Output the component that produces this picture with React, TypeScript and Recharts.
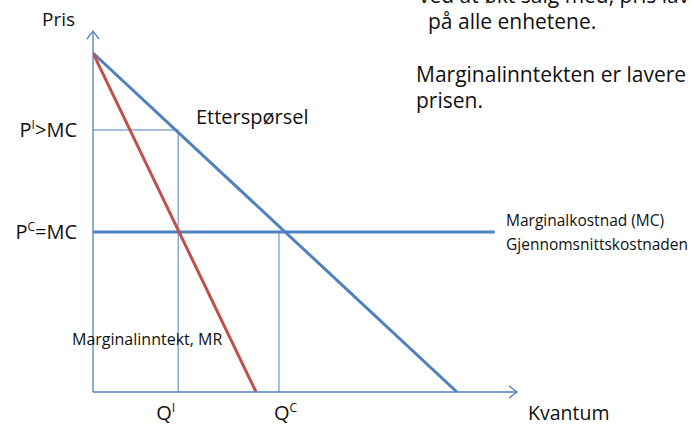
import { LineChart, Line, XAxis, YAxis, ReferenceLine, ReferenceDot } from "recharts";

// quantity / price in chart units
const demand = [
  { q: 0, p: 100 },
  { q: 100, p: 0 },
];
const marginalRevenue = [
  { q: 0, p: 100 },
  { q: 44.8, p: 0 },
];
const marginalCost = [
  { q: 0, p: 47.2 },
  { q: 110.4, p: 47.2 },
];
const qMonopoly = 23.4;
const pMonopoly = 77.3;
const qCompetition = 51.1;
const xMax = 116.5;
const yMax = 106.5;

const xTicks = [qMonopoly, qCompetition];
const xTickLabels = [
  { main: "Q", sup: "I", dx: -22 },
  { main: "Q", sup: "C", dx: -5 },
];
const yTicks = [pMonopoly, 47.2];
const yTickLabels = [
  { main: "P", sup: "I", rest: ">MC" },
  { main: "P", sup: "C", rest: "=MC" },
];

const BLUE = "#4F81BD";
const RED = "#C0504D";
const FONT = "'Open Sans', sans-serif";

const XTick = (props: any) => {
  const { x, index } = props;
  const l = xTickLabels[index];
  if (!l) return null;
  return (
    <text x={x + l.dx} y={420} fontSize={20} fill="#111" fontFamily={FONT}>
      {l.main}
      <tspan fontSize={12} dy={-8}>{l.sup}</tspan>
    </text>
  );
};

const YTick = (props: any) => {
  const { y, index } = props;
  const l = yTickLabels[index];
  if (!l) return null;
  return (
    <text x={77} y={y + 7} fontSize={20} fill="#111" fontFamily={FONT} textAnchor="end">
      {l.main}
      <tspan fontSize={12} dy={-8}>{l.sup}</tspan>
      <tspan dy={8}>{l.rest}</tspan>
    </text>
  );
};

const ArrowRight = (props: any) => (
  <path d={`M${props.cx - 8},${props.cy - 6} L${props.cx},${props.cy} L${props.cx - 8},${props.cy + 6}`} stroke={BLUE} strokeWidth={1.3} fill="none" />
);
const ArrowUp = (props: any) => (
  <path d={`M${props.cx - 6},${props.cy + 8} L${props.cx},${props.cy} L${props.cx + 6},${props.cy + 8}`} stroke={BLUE} strokeWidth={1.3} fill="none" />
);

export default function App() {
  return (
    <div style={{ position: "absolute", left: 0, top: 0, width: 691, height: 428, background: "#fff", overflow: "hidden" }}>
      <LineChart width={691} height={428} margin={{ top: 31, right: 174, bottom: 0, left: 0 }}>
        <XAxis
          type="number"
          dataKey="q"
          domain={[0, xMax]}
          ticks={xTicks}
          tick={<XTick />}
          tickLine={false}
          height={36}
          allowDataOverflow
          stroke={BLUE}
          strokeWidth={1.3}
        />
        <YAxis
          type="number"
          dataKey="p"
          domain={[0, yMax]}
          ticks={yTicks}
          tick={<YTick />}
          tickLine={false}
          width={93}
          allowDataOverflow
          stroke={BLUE}
          strokeWidth={1.3}
        />
        <ReferenceLine segment={[{ x: 0, y: pMonopoly }, { x: qMonopoly, y: pMonopoly }]} stroke={BLUE} strokeWidth={1} />
        <ReferenceLine segment={[{ x: qMonopoly, y: 0 }, { x: qMonopoly, y: pMonopoly }]} stroke={BLUE} strokeWidth={1} />
        <ReferenceLine segment={[{ x: qCompetition, y: 0 }, { x: qCompetition, y: 47.2 }]} stroke={BLUE} strokeWidth={1} />
        <Line data={marginalCost} dataKey="p" stroke={BLUE} strokeWidth={3} dot={false} isAnimationActive={false} />
        <Line data={demand} dataKey="p" stroke={BLUE} strokeWidth={3} dot={false} isAnimationActive={false} />
        <Line data={marginalRevenue} dataKey="p" stroke={RED} strokeWidth={3} dot={false} isAnimationActive={false} />
        <ReferenceDot x={xMax} y={0} ifOverflow="visible" shape={<ArrowRight />} />
        <ReferenceDot x={0} y={yMax} ifOverflow="visible" shape={<ArrowUp />} />
      </LineChart>
      <svg width={691} height={428} style={{ position: "absolute", left: 0, top: 0, pointerEvents: "none" }} fontFamily={FONT} fill="#111">
        <text x={42} y={26} fontSize={19}>Pris</text>
        <text x={528} y={420} fontSize={19.5}>Kvantum</text>
        <text x={196} y={124} fontSize={20}>Etterspørsel</text>
        <text x={506} y={226} fontSize={15.5}>Marginalkostnad (MC)</text>
        <text x={506} y={250} fontSize={15.5}>Gjennomsnittskostnaden</text>
        <text x={72} y={345} fontSize={16}>Marginalinntekt, MR</text>
        <text x={419} y={3} fontSize={21}>ved at økt salg med, pris lavere</text>
        <text x={428} y={29} fontSize={21}>på alle enhetene.</text>
        <text x={416} y={82} fontSize={21}>Marginalinntekten er lavere enn</text>
        <text x={416} y={108} fontSize={21}>prisen.</text>
      </svg>
    </div>
  );
}
